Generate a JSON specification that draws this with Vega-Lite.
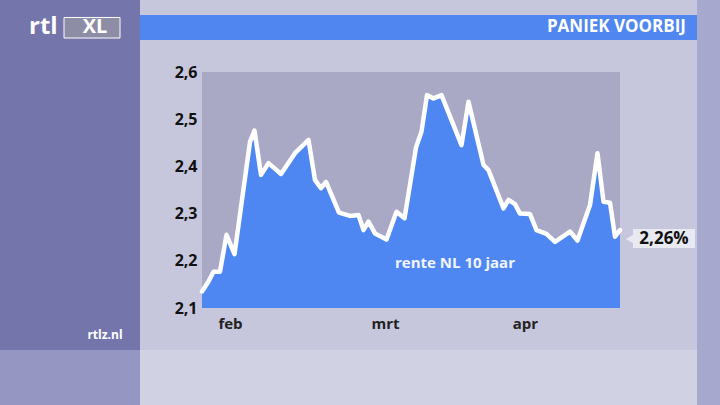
{
  "$schema": "https://vega.github.io/schema/vega-lite/v6.json",
  "width": 418,
  "height": 236,
  "autosize": {"type": "none"},
  "padding": {"left": 202, "top": 72, "right": 100, "bottom": 97},
  "background": "#c6c7dc",
  "config": {
    "view": {"stroke": null, "fill": "#a9a8c5"},
    "font": "Open Sans",
    "axisX": {"domain": false, "ticks": false, "grid": false, "title": null, "labelFont": "Open Sans", "labelFontSize": 15, "labelFontWeight": "bold", "labelColor": "#222222", "labelPadding": 8},
    "axisY": {"domain": false, "ticks": false, "grid": false, "title": null, "labelFont": "Open Sans", "labelFontSize": 16, "labelFontWeight": "bold", "labelColor": "#111111", "labelPadding": 5}
  },
  "datasets": {
    "rente": [
      {"dag": 0, "rente": 2.135},
      {"dag": 1.3, "rente": 2.156},
      {"dag": 2.3, "rente": 2.177},
      {"dag": 3.6, "rente": 2.177},
      {"dag": 4.9, "rente": 2.255},
      {"dag": 6.5, "rente": 2.214},
      {"dag": 9.6, "rente": 2.452},
      {"dag": 10.5, "rente": 2.476},
      {"dag": 11.8, "rente": 2.382},
      {"dag": 13.3, "rente": 2.407},
      {"dag": 15.8, "rente": 2.384},
      {"dag": 18.6, "rente": 2.428},
      {"dag": 21.3, "rente": 2.456},
      {"dag": 22.6, "rente": 2.371},
      {"dag": 23.8, "rente": 2.354},
      {"dag": 24.8, "rente": 2.367},
      {"dag": 27.4, "rente": 2.302},
      {"dag": 29.6, "rente": 2.295},
      {"dag": 31.3, "rente": 2.297},
      {"dag": 32.3, "rente": 2.265},
      {"dag": 33.3, "rente": 2.283},
      {"dag": 34.6, "rente": 2.258},
      {"dag": 36.9, "rente": 2.245},
      {"dag": 38.9, "rente": 2.304},
      {"dag": 40.5, "rente": 2.29},
      {"dag": 42.8, "rente": 2.44},
      {"dag": 43.9, "rente": 2.474},
      {"dag": 45.0, "rente": 2.551},
      {"dag": 46.3, "rente": 2.544},
      {"dag": 47.9, "rente": 2.551},
      {"dag": 51.9, "rente": 2.445},
      {"dag": 53.3, "rente": 2.537},
      {"dag": 56.3, "rente": 2.403},
      {"dag": 57.3, "rente": 2.392},
      {"dag": 60.3, "rente": 2.311},
      {"dag": 61.3, "rente": 2.329},
      {"dag": 62.6, "rente": 2.32},
      {"dag": 63.6, "rente": 2.3},
      {"dag": 65.6, "rente": 2.299},
      {"dag": 66.9, "rente": 2.265},
      {"dag": 68.9, "rente": 2.257},
      {"dag": 70.6, "rente": 2.24},
      {"dag": 73.6, "rente": 2.262},
      {"dag": 75.1, "rente": 2.243},
      {"dag": 77.6, "rente": 2.318},
      {"dag": 79.1, "rente": 2.428},
      {"dag": 80.3, "rente": 2.325},
      {"dag": 81.6, "rente": 2.323},
      {"dag": 82.6, "rente": 2.251},
      {"dag": 83.6, "rente": 2.265}
    ],
    "one": [{}]
  },
  "layer": [
    {
      "data": {"name": "one"},
      "mark": {"type": "rect", "fill": "#7475aa"},
      "encoding": {
        "x": {"datum": -40.4, "type": "quantitative", "scale": {"domain": [0, 83.6], "nice": false, "zero": false}},
        "x2": {"datum": -12.4},
        "y": {"datum": 2.7525, "type": "quantitative", "scale": {"domain": [2.1, 2.6], "nice": false, "zero": false}},
        "y2": {"datum": 2.011}
      }
    },
    {
      "data": {"name": "one"},
      "mark": {"type": "rect", "fill": "#9596c2"},
      "encoding": {
        "x": {"datum": -40.4, "type": "quantitative", "scale": {"domain": [0, 83.6], "nice": false, "zero": false}},
        "x2": {"datum": -12.4},
        "y": {"datum": 2.011, "type": "quantitative", "scale": {"domain": [2.1, 2.6], "nice": false, "zero": false}},
        "y2": {"datum": 1.8945}
      }
    },
    {
      "data": {"name": "one"},
      "mark": {"type": "rect", "fill": "#d0d1e3"},
      "encoding": {
        "x": {"datum": -12.4, "type": "quantitative", "scale": {"domain": [0, 83.6], "nice": false, "zero": false}},
        "x2": {"datum": 99},
        "y": {"datum": 2.011, "type": "quantitative", "scale": {"domain": [2.1, 2.6], "nice": false, "zero": false}},
        "y2": {"datum": 1.8945}
      }
    },
    {
      "data": {"name": "one"},
      "mark": {"type": "rect", "fill": "#a7a8cd"},
      "encoding": {
        "x": {"datum": 99, "type": "quantitative", "scale": {"domain": [0, 83.6], "nice": false, "zero": false}},
        "x2": {"datum": 103.6},
        "y": {"datum": 2.7525, "type": "quantitative", "scale": {"domain": [2.1, 2.6], "nice": false, "zero": false}},
        "y2": {"datum": 1.8945}
      }
    },
    {
      "data": {"name": "one"},
      "mark": {"type": "rect", "fill": "#4f86f0"},
      "encoding": {
        "x": {"datum": -12.4, "type": "quantitative", "scale": {"domain": [0, 83.6], "nice": false, "zero": false}},
        "x2": {"datum": 99},
        "y": {"datum": 2.7208, "type": "quantitative", "scale": {"domain": [2.1, 2.6], "nice": false, "zero": false}},
        "y2": {"datum": 2.6678}
      }
    },
    {
      "data": {"name": "one"},
      "mark": {"type": "text", "text": "PANIEK VOORBIJ", "align": "right", "baseline": "middle", "font": "Open Sans", "fontWeight": "bold", "fontSize": 17, "fill": "white"},
      "encoding": {
        "x": {"datum": 96.8, "type": "quantitative", "scale": {"domain": [0, 83.6], "nice": false, "zero": false}},
        "y": {"datum": 2.6943, "type": "quantitative", "scale": {"domain": [2.1, 2.6], "nice": false, "zero": false}}
      }
    },
    {
      "data": {"name": "one"},
      "mark": {"type": "rect", "fill": "#8d8da6", "stroke": "white", "strokeWidth": 1},
      "encoding": {
        "x": {"datum": -27.6, "type": "quantitative", "scale": {"domain": [0, 83.6], "nice": false, "zero": false}},
        "x2": {"datum": -16.4},
        "y": {"datum": 2.7155, "type": "quantitative", "scale": {"domain": [2.1, 2.6], "nice": false, "zero": false}},
        "y2": {"datum": 2.6720}
      }
    },
    {
      "data": {"name": "one"},
      "mark": {"type": "text", "text": "rtl", "align": "left", "baseline": "middle", "font": "Open Sans", "fontWeight": "bold", "fontSize": 24, "fill": "white"},
      "encoding": {
        "x": {"datum": -34.6, "type": "quantitative", "scale": {"domain": [0, 83.6], "nice": false, "zero": false}},
        "y": {"datum": 2.6943, "type": "quantitative", "scale": {"domain": [2.1, 2.6], "nice": false, "zero": false}}
      }
    },
    {
      "data": {"name": "one"},
      "mark": {"type": "text", "text": "XL", "align": "center", "baseline": "middle", "font": "Open Sans", "fontWeight": "bold", "fontSize": 20, "fill": "white"},
      "encoding": {
        "x": {"datum": -21.4, "type": "quantitative", "scale": {"domain": [0, 83.6], "nice": false, "zero": false}},
        "y": {"datum": 2.6943, "type": "quantitative", "scale": {"domain": [2.1, 2.6], "nice": false, "zero": false}}
      }
    },
    {
      "data": {"name": "one"},
      "mark": {"type": "text", "text": "rtlz.nl", "align": "center", "baseline": "middle", "font": "Open Sans", "fontWeight": "bold", "fontSize": 12, "fill": "white"},
      "encoding": {
        "x": {"datum": -19.4, "type": "quantitative", "scale": {"domain": [0, 83.6], "nice": false, "zero": false}},
        "y": {"datum": 2.0428, "type": "quantitative", "scale": {"domain": [2.1, 2.6], "nice": false, "zero": false}}
      }
    },
    {
      "data": {"name": "rente"},
      "mark": {"type": "area", "color": "#4f87f2", "clip": true},
      "encoding": {
        "x": {
          "field": "dag", "type": "quantitative",
          "scale": {"domain": [0, 83.6], "nice": false, "zero": false},
          "axis": {"values": [5.6, 36.6, 64.6], "labelExpr": "datum.value < 20 ? 'feb' : datum.value < 50 ? 'mrt' : 'apr'"}
        },
        "y": {
          "field": "rente", "type": "quantitative",
          "scale": {"domain": [2.1, 2.6], "nice": false, "zero": false},
          "axis": {"values": [2.1, 2.2, 2.3, 2.4, 2.5, 2.6], "labelExpr": "replace(format(datum.value, '.1f'), '.', ',')"}
        }
      }
    },
    {
      "data": {"name": "rente"},
      "mark": {"type": "line", "color": "white", "strokeWidth": 4.5, "strokeJoin": "round", "strokeCap": "round"},
      "encoding": {
        "x": {"field": "dag", "type": "quantitative", "scale": {"domain": [0, 83.6], "nice": false, "zero": false}},
        "y": {"field": "rente", "type": "quantitative", "scale": {"domain": [2.1, 2.6], "nice": false, "zero": false}}
      }
    },
    {
      "data": {"name": "one"},
      "mark": {"type": "text", "text": "rente NL 10 jaar", "align": "center", "baseline": "middle", "font": "Open Sans", "fontWeight": "bold", "fontSize": 15, "fill": "#f2f4ff"},
      "encoding": {
        "x": {"datum": 50.6, "type": "quantitative", "scale": {"domain": [0, 83.6], "nice": false, "zero": false}},
        "y": {"datum": 2.1953, "type": "quantitative", "scale": {"domain": [2.1, 2.6], "nice": false, "zero": false}}
      }
    },
    {
      "data": {"name": "one"},
      "mark": {"type": "point", "shape": "triangle-left", "filled": true, "size": 90, "color": "#e9e9f2", "opacity": 1},
      "encoding": {
        "x": {"datum": 85.6, "type": "quantitative", "scale": {"domain": [0, 83.6], "nice": false, "zero": false}},
        "y": {"datum": 2.2462, "type": "quantitative", "scale": {"domain": [2.1, 2.6], "nice": false, "zero": false}}
      }
    },
    {
      "data": {"name": "one"},
      "mark": {"type": "rect", "fill": "#e9e9f2"},
      "encoding": {
        "x": {"datum": 86.2, "type": "quantitative", "scale": {"domain": [0, 83.6], "nice": false, "zero": false}},
        "x2": {"datum": 98.6},
        "y": {"datum": 2.2674, "type": "quantitative", "scale": {"domain": [2.1, 2.6], "nice": false, "zero": false}},
        "y2": {"datum": 2.2271}
      }
    },
    {
      "data": {"name": "one"},
      "mark": {"type": "text", "text": "2,26%", "align": "center", "baseline": "middle", "font": "Open Sans", "fontWeight": "bold", "fontSize": 17, "fill": "#111111"},
      "encoding": {
        "x": {"datum": 92.4, "type": "quantitative", "scale": {"domain": [0, 83.6], "nice": false, "zero": false}},
        "y": {"datum": 2.2462, "type": "quantitative", "scale": {"domain": [2.1, 2.6], "nice": false, "zero": false}}
      }
    }
  ]
}
